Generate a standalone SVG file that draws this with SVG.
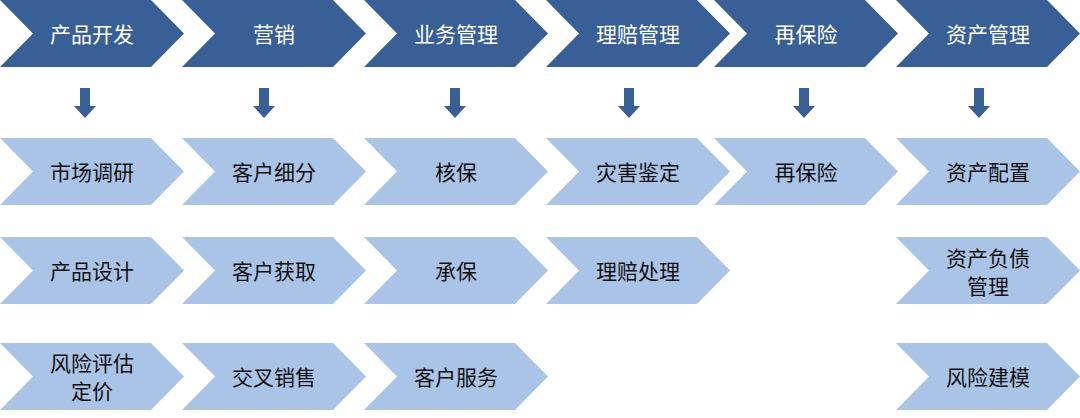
<svg xmlns="http://www.w3.org/2000/svg" width="1080" height="418" viewBox="0 0 1080 418">
<defs>
<style>
.d{fill:#386096}.l{fill:#a9c4e6}
.t{font-family:"Noto Sans CJK SC",sans-serif;font-size:21px;text-anchor:middle;dominant-baseline:central}
.tw{fill:#fff}.tb{fill:#111}
.ar{fill:#386096}
</style>
<path id="ch" d="M0,0 H151 L184,33.5 L151,67 H0 L33,33.5 Z"/>
<path id="ar" d="M-5,0 H5 V18 H11 L0,30 L-11,18 H-5 Z"/>
</defs>
<rect width="1080" height="418" fill="#fff"/>
<g id="n1"><use href="#ch" class="d" x="0" y="0"/><text class="t tw" x="92" y="33">产品开发</text></g>
<g id="n2"><use href="#ch" class="d" x="182" y="0"/><text class="t tw" x="274" y="33">营销</text></g>
<g id="n3"><use href="#ch" class="d" x="364" y="0"/><text class="t tw" x="456" y="33">业务管理</text></g>
<g id="n4"><use href="#ch" class="d" x="546" y="0"/><text class="t tw" x="638" y="33">理赔管理</text></g>
<g id="n5"><use href="#ch" class="d" x="714" y="0"/><text class="t tw" x="806" y="33">再保险</text></g>
<g id="n6"><use href="#ch" class="d" x="896" y="0"/><text class="t tw" x="988" y="33">资产管理</text></g>
<g id="connectors">
<use href="#ar" class="ar" x="85" y="88"/>
<use href="#ar" class="ar" x="264" y="88"/>
<use href="#ar" class="ar" x="455" y="88"/>
<use href="#ar" class="ar" x="629" y="88"/>
<use href="#ar" class="ar" x="804" y="88"/>
<use href="#ar" class="ar" x="979" y="88"/>
</g>
<g id="r1c1"><use href="#ch" class="l" x="0" y="138"/><text class="t tb" x="92" y="171">市场调研</text></g>
<g id="r1c2"><use href="#ch" class="l" x="182" y="138"/><text class="t tb" x="274" y="171">客户细分</text></g>
<g id="r1c3"><use href="#ch" class="l" x="364" y="138"/><text class="t tb" x="456" y="171">核保</text></g>
<g id="r1c4"><use href="#ch" class="l" x="546" y="138"/><text class="t tb" x="638" y="171">灾害鉴定</text></g>
<g id="r1c5"><use href="#ch" class="l" x="714" y="138"/><text class="t tb" x="806" y="171">再保险</text></g>
<g id="r1c6"><use href="#ch" class="l" x="896" y="138"/><text class="t tb" x="988" y="171">资产配置</text></g>
<g id="r2c1"><use href="#ch" class="l" x="0" y="237"/><text class="t tb" x="92" y="270">产品设计</text></g>
<g id="r2c2"><use href="#ch" class="l" x="182" y="237"/><text class="t tb" x="274" y="270">客户获取</text></g>
<g id="r2c3"><use href="#ch" class="l" x="364" y="237"/><text class="t tb" x="456" y="270">承保</text></g>
<g id="r2c4"><use href="#ch" class="l" x="546" y="237"/><text class="t tb" x="638" y="270">理赔处理</text></g>
<g id="r2c6"><use href="#ch" class="l" x="896" y="237"/><text class="t tb" x="988" y="257">资产负债</text><text class="t tb" x="988" y="285">管理</text></g>
<g id="r3c1"><use href="#ch" class="l" x="0" y="343"/><text class="t tb" x="92" y="362">风险评估</text><text class="t tb" x="92" y="390">定价</text></g>
<g id="r3c2"><use href="#ch" class="l" x="182" y="343"/><text class="t tb" x="274" y="376">交叉销售</text></g>
<g id="r3c3"><use href="#ch" class="l" x="364" y="343"/><text class="t tb" x="456" y="376">客户服务</text></g>
<g id="r3c6"><use href="#ch" class="l" x="896" y="343"/><text class="t tb" x="988" y="376">风险建模</text></g>
</svg>
